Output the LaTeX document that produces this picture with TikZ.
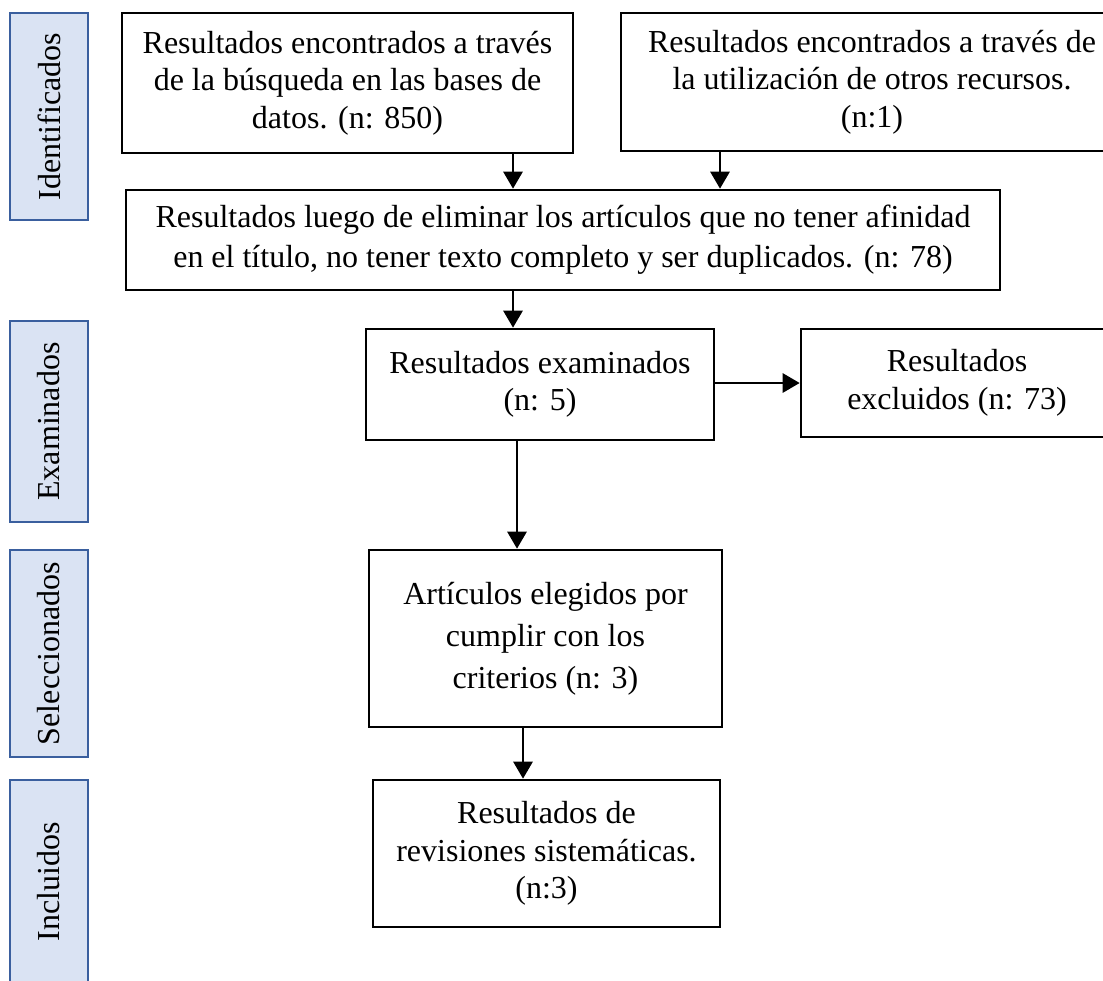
\documentclass[tikz,border=0pt]{standalone}
\usepackage{fontspec}
\setmainfont{Liberation Serif}
\usetikzlibrary{arrows.meta}
\definecolor{sidefill}{HTML}{DAE3F3}
\definecolor{sidedraw}{HTML}{3A5F9E}
\tikzset{
  box/.style={draw=black, line width=2.6pt, rectangle, inner sep=0pt, align=center,
    font=\fontsize{32}{37.5}\selectfont},
  side/.style={draw=sidedraw, fill=sidefill, line width=2.4pt, rectangle, inner sep=0pt,
    minimum width=78pt},
  sidetext/.style={rotate=90, font=\fontsize{32}{36}\selectfont},
  arr/.style={line width=2.8pt, -{Triangle[width=19pt,length=17pt]}}
}
\begin{document}
\begin{tikzpicture}[x=1pt,y=-1pt]
\useasboundingbox (0,0) rectangle (1103,980);
% side labels
\node[side, minimum height=207pt] (s1) at (49,116.5) {};
\node[sidetext] (t1) at (s1.center) {Identificados};
\node[side, minimum height=201pt] (s2) at (49,421.5) {};
\node[sidetext] (t2) at (s2.center) {Examinados};
\node[side, minimum height=207pt] (s3) at (49,653.5) {};
\node[sidetext] (t3) at (s3.center) {Seleccionados};
\node[side, minimum height=220pt] (s4) at (49,890) {};
\node[sidetext] (t4) at (49,882) {Incluidos};
% main boxes
\node[box, minimum width=451pt, minimum height=140pt] (b1) at (347.5,83)
  {Resultados encontrados a través\\de la búsqueda en las bases de\\datos. (n: 850)};
\node[box, minimum width=502pt, minimum height=138pt] (b2) at (872,82)
  {Resultados encontrados a través de\\la utilización de otros recursos.\\(n:1)};
\node[box, minimum width=874pt, minimum height=100pt, font=\fontsize{32}{40}\selectfont] (b3) at (563,240)
  {Resultados luego de eliminar los artículos que no tener afinidad\\en el título, no tener texto completo y ser duplicados. (n: 78)};
\node[box, minimum width=348pt, minimum height=111pt] (b4) at (540,384.5)
  {Resultados examinados\\(n: 5)};
\node[box, minimum width=312pt, minimum height=108pt] (b5) at (957,383)
  {Resultados\\excluidos (n: 73)};
\node[box, minimum width=353pt, minimum height=177pt, font=\fontsize{32}{42}\selectfont] (b6) at (545.5,638.5)
  {Artículos elegidos por\\cumplir con los\\criterios (n: 3)};
\node[box, minimum width=347pt, minimum height=147pt] (b7) at (546.5,853.5)
  {Resultados de\\revisiones sistemáticas.\\(n:3)};
% connectors
\draw[arr] (b1.south -| 513,0) -- (b3.north -| 513,0);
\draw[arr] (b2.south -| 720,0) -- (b3.north -| 720,0);
\draw[arr] (b3.south -| 513,0) -- (b4.north -| 513,0);
\draw[arr] (b4.east |- 0,383) -- (b5.west |- 0,383);
\draw[arr] (b4.south -| 517,0) -- (b6.north -| 517,0);
\draw[arr] (b6.south -| 523,0) -- (b7.north -| 523,0);
\end{tikzpicture}
\end{document}
